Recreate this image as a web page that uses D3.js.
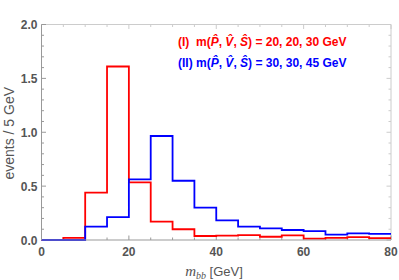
<!DOCTYPE html>
<html>
<head>
<meta charset="utf-8">
<script src="https://cdn.jsdelivr.net/npm/d3@7"></script>
<style>
body { margin: 0; background: #fff; }
text { font-family: "Liberation Sans", Arial, sans-serif; }
.tick-label { font-size: 12px; font-weight: bold; fill: #555; }
</style>
</head>
<body>
<svg id="chart" width="399" height="280"></svg>
<script>
// bin edges every 5 GeV from 0 to 80
const binEdges = [0, 5, 10, 15, 20, 25, 30, 35, 40, 45, 50, 55, 60, 65, 70, 75, 80];
const seriesI  = [0, 0.02, 0.44, 1.61, 0.535, 0.17, 0.10, 0.037, 0.04, 0.046, 0.03, 0.043, 0.012, 0.02, 0.027, 0.018];
const seriesII = [0, 0, 0.125, 0.213, 0.563, 0.965, 0.55, 0.30, 0.183, 0.125, 0.108, 0.093, 0.083, 0.05, 0.062, 0.056];
const xTicks = [0, 20, 40, 60, 80];
const yTicks = [0.0, 0.5, 1.0, 1.5, 2.0];

const svg = d3.select("#chart");
const margin = {top: 24.5, right: 8, bottom: 40, left: 41.5};
const W = 399, H = 280;

const x = d3.scaleLinear().domain([0, 80]).range([margin.left, W - margin.right]);
const y = d3.scaleLinear().domain([0, 2]).range([H - margin.bottom, margin.top]);

// frame
const frameCol = "#999";
svg.append("line").attr("x1", x(0)).attr("x2", x(80)).attr("y1", y(2)).attr("y2", y(2))
   .attr("stroke", "#ccc").attr("stroke-width", 1);
svg.append("line").attr("x1", x(80)).attr("x2", x(80)).attr("y1", y(0)).attr("y2", y(2))
   .attr("stroke", "#ccc").attr("stroke-width", 1);

function ticks(vals, len, col) {
	// bottom and top
	svg.append("g").selectAll("line").data(vals.x).join("line")
	   .attr("x1", d => x(d)).attr("x2", d => x(d))
	   .attr("y1", y(0)).attr("y2", y(0) - len)
	   .attr("stroke", col);
	svg.append("g").selectAll("line").data(vals.x).join("line")
	   .attr("x1", d => x(d)).attr("x2", d => x(d))
	   .attr("y1", y(2)).attr("y2", y(2) + len)
	   .attr("stroke", "#ccc");
	svg.append("g").selectAll("line").data(vals.y).join("line")
	   .attr("x1", x(0)).attr("x2", x(0) + len)
	   .attr("y1", d => y(d)).attr("y2", d => y(d))
	   .attr("stroke", col);
	svg.append("g").selectAll("line").data(vals.y).join("line")
	   .attr("x1", x(80)).attr("x2", x(80) - len)
	   .attr("y1", d => y(d)).attr("y2", d => y(d))
	   .attr("stroke", "#ccc");
}
ticks({x: d3.range(0, 81, 5).filter(d => d % 20 != 0), y: d3.range(0, 2.01, 0.1).map(d => +d.toFixed(1)).filter(d => Math.round(d*10) % 5 != 0)}, 2.5, frameCol);
ticks({x: xTicks, y: yTicks}, 4.5, frameCol);

// step lines
function stepPoints(vals) {
	let pts = [];
	vals.forEach((v, i) => {
		pts.push([binEdges[i], v]);
		pts.push([binEdges[i+1], v]);
	});
	return pts;
}
const line = d3.line().x(d => x(d[0])).y(d => y(d[1]));

svg.append("path").datum(stepPoints(seriesI)).attr("d", line)
   .attr("fill", "none").attr("stroke", "#ff0000").attr("stroke-width", 1.8);
svg.append("path").datum(stepPoints(seriesII)).attr("d", line)
   .attr("fill", "none").attr("stroke", "#0000ff").attr("stroke-width", 1.8);

// left and bottom frame lines on top
svg.append("line").attr("x1", x(0)).attr("x2", x(80)).attr("y1", y(0)).attr("y2", y(0))
   .attr("stroke", frameCol).attr("stroke-width", 1);
svg.append("line").attr("x1", x(0)).attr("x2", x(0)).attr("y1", y(0)).attr("y2", y(2))
   .attr("stroke", frameCol).attr("stroke-width", 1);

// tick labels
svg.append("g").selectAll("text").data(xTicks).join("text")
   .attr("class", "tick-label")
   .attr("x", d => x(d)).attr("y", y(0) + 16)
   .attr("text-anchor", "middle")
   .text(d => d);
svg.append("g").selectAll("text").data(yTicks).join("text")
   .attr("class", "tick-label")
   .attr("x", x(0) - 4).attr("y", d => y(d) + 4.5)
   .attr("text-anchor", "end")
   .text(d => d.toFixed(1));

// axis titles
const xl = svg.append("text").attr("x", 214).attr("y", 276).attr("text-anchor", "middle")
   .style("font-size", "13px").style("fill", "#555");
xl.append("tspan").text("m").style("font-style", "italic").style("font-family", "'Liberation Serif', serif").style("font-size", "15px");
xl.append("tspan").text("bb").style("font-style", "italic").style("font-family", "'Liberation Serif', serif").style("font-size", "10px").attr("dy", 3);
xl.append("tspan").text(" [GeV]").attr("dy", -3);

svg.append("text")
   .attr("transform", "translate(14," + ((y(0) + y(2)) / 2 + 1) + ") rotate(-90)")
   .attr("text-anchor", "middle")
   .style("font-size", "14px").style("fill", "#555")
   .text("events  / 5 GeV");

// legend
function legend(label, vals, col, ly) {
	const t = svg.append("text").attr("x", 178).attr("y", ly)
	   .style("font-size", "12px").style("font-weight", "bold").style("fill", col);
	t.append("tspan").text(label + "m(");
	t.append("tspan").text("P\u0302").style("font-style", "italic");
	t.append("tspan").text(", ");
	t.append("tspan").text("V\u0302").style("font-style", "italic");
	t.append("tspan").text(", ");
	t.append("tspan").text("S\u0302").style("font-style", "italic");
	t.append("tspan").text(") = " + vals + " GeV");
	return t;
}
legend("(I)\u00a0\u00a0", "20, 20, 30", "#ff0000", 46);
legend("(II) ", "30, 30, 45", "#0000ff", 67);
</script>
</body>
</html>
